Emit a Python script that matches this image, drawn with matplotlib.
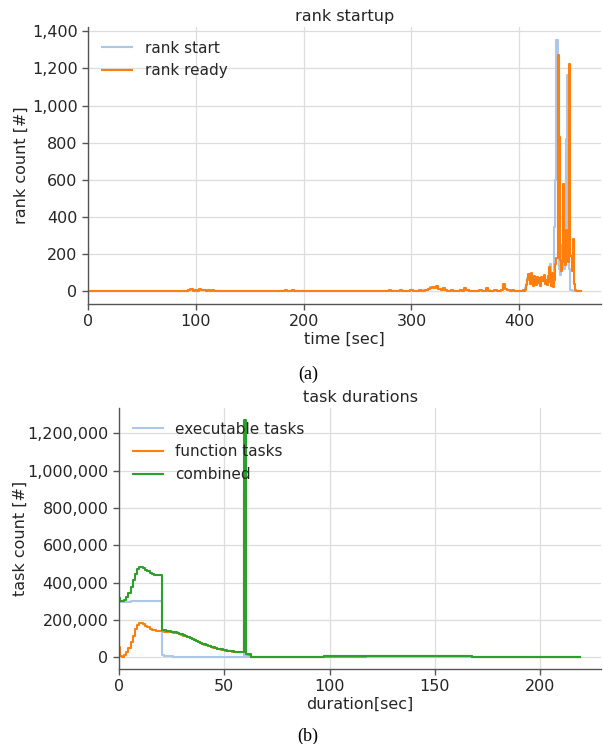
import numpy as np
import matplotlib
matplotlib.use('Agg')
import matplotlib.pyplot as plt
from matplotlib.ticker import FuncFormatter

# ---- rank startup: counts per time bin (2 s bins from 90 s, 1 s bins from 400 s)
rank_low_t0, rank_low_dt = 90, 2
rank_high_t0, rank_high_dt = 400, 1

rank_start_low = [
    1, 3, 8, 10, 6, 9, 4, 10, 6, 7,
    3, 8, 4, 4, 3, 3, 2, 4, 2, 3,
    2, 2, 3, 1, 3, 2, 2, 2, 3, 2,
    1, 2, 2, 3, 3, 2, 1, 3, 2, 2,
    2, 3, 2, 3, 3, 2, 3, 4, 4, 3,
    5, 4, 2, 3, 2, 2, 3, 1, 2, 3,
    2, 2, 2, 2, 1, 2, 2, 3, 3, 2,
    2, 2, 2, 3, 3, 2, 2, 2, 2, 2,
    2, 2, 3, 3, 2, 2, 2, 2, 2, 2,
    2, 2, 3, 3, 4, 4, 3, 3, 3, 3,
    4, 3, 3, 3, 4, 5, 3, 3, 4, 4,
    4, 5, 8, 15, 22, 22, 20, 24, 12, 10,
    16, 8, 4, 4, 4, 3, 3, 4, 5, 3,
    15, 7, 3, 3, 3, 3, 3, 4, 4, 3,
    13, 6, 3, 3, 4, 4, 4, 10, 35, 15,
    6, 3, 5, 3, 3]
rank_ready_low = [
    0, 2, 6, 12, 4, 10, 3, 11, 5, 8,
    2, 9, 3, 5, 2, 4, 1, 3, 2, 4,
    1, 3, 2, 1, 4, 2, 3, 1, 2, 3,
    2, 1, 3, 2, 4, 1, 2, 3, 1, 2,
    3, 2, 1, 4, 2, 3, 2, 5, 3, 4,
    6, 3, 2, 4, 1, 3, 2, 1, 3, 2,
    1, 2, 3, 1, 2, 1, 3, 2, 4, 1,
    2, 3, 1, 2, 4, 2, 1, 3, 2, 1,
    3, 1, 2, 4, 2, 1, 3, 2, 1, 2,
    1, 3, 2, 4, 3, 5, 2, 3, 4, 2,
    5, 3, 2, 4, 3, 6, 2, 4, 3, 5,
    3, 4, 6, 12, 20, 24, 18, 27, 15, 8,
    20, 6, 4, 3, 5, 2, 4, 3, 6, 2,
    18, 5, 3, 2, 4, 3, 2, 5, 3, 4,
    16, 4, 3, 2, 5, 3, 4, 8, 40, 12,
    5, 3, 6, 2, 4]
rank_start_high = [
    2, 0, 1, 3, 4, 8, 20, 40, 70, 80,
    60, 90, 40, 35, 80, 60, 40, 75, 50, 65,
    35, 70, 60, 85, 45, 55, 40, 80, 110, 145,
    50, 90, 60, 345, 600, 1355, 300, 120, 90, 200,
    250, 150, 120, 300, 820, 1165, 300, 120, 10, 0,
    0, 0, 0, 0, 0, 0, 0, 0]
rank_ready_high = [
    3, 1, 0, 2, 5, 3, 10, 35, 60, 95,
    40, 100, 45, 30, 85, 70, 35, 80, 45, 70,
    30, 75, 55, 90, 40, 60, 35, 85, 130, 50,
    30, 100, 25, 60, 150, 180, 1270, 830, 170, 110,
    160, 580, 310, 140, 330, 300, 160, 1225, 190, 110,
    280, 40, 8, 2, 0, 0, 0, 0]

# ---- task durations (counts in thousands), 1 s bins 0..63, then 5 s bins
dur_head = list(range(0, 64))
dur_tail = [65, 70, 75, 80, 85, 90, 95, 100, 105, 110, 115, 120, 125, 130, 135,
            140, 145, 150, 155, 160, 165, 170, 175, 180, 185, 190, 195, 200,
            205, 210, 215, 219]

exe_head = [300, 298, 297, 297, 298, 298, 299, 299, 300, 300,
            300, 300, 301, 300, 300, 300, 300, 299, 299, 300,
            300, 10, 6, 5, 4, 4, 3, 3, 3, 2,
            2, 2, 2, 1, 1, 1, 1, 1, 1, 1,
            1, 1, 1, 1, 1, 1, 1, 0, 0, 0,
            0, 0, 0, 0, 0, 0, 0, 0, 0, 0,
            390, 3, 2, 0]
fn_head = [55, 5, 3, 10, 25, 50, 80, 115, 150, 172,
           182, 183, 177, 168, 160, 152, 147, 143, 141, 140,
           139, 138, 137, 136, 135, 134, 132, 130, 127, 124,
           120, 116, 112, 107, 102, 97, 92, 87, 82, 77,
           72, 67, 63, 59, 55, 51, 48, 45, 42, 40,
           38, 35, 33, 31, 30, 29, 28, 27, 26, 25,
           883, 15, 14, 0]
comb_head = [318, 302, 301, 306, 322, 346, 378, 414, 448, 472,
             482, 483, 478, 470, 462, 454, 448, 443, 441, 440,
             440, 148, 143, 141, 139, 137, 135, 133, 129, 126,
             122, 118, 114, 108, 103, 98, 93, 88, 83, 78,
             73, 68, 64, 60, 56, 52, 49, 46, 43, 41,
             38, 36, 34, 32, 31, 30, 29, 28, 27, 26,
             1273, 18, 16, 0]
exe_tail = [0, 0, 0, 0, 0, 0, 0, 3.5, 3.5, 3.5, 3.5, 1, 1, 1, 1,
            1, 1, 1, 1, 1, 1, 0.5, 0.5, 0.5, 0.5, 0.5, 0.5, 0.2,
            0.2, 0.2, 0.2, 0.2]
fn_tail = [0, 0, 0, 0, 0, 0, 0, 0.5, 0.5, 0.5, 0.5, 4.5, 4.5, 4.5, 4.5,
           4.5, 4.5, 4.5, 4.5, 4.5, 4.5, 2.5, 2.5, 2.5, 2.5, 2.5, 2.5, 0.3,
           0.3, 0.3, 0.3, 0.3]
comb_tail = [0, 0, 0, 0, 0, 0, 0, 4, 4, 4, 4, 5.5, 5.5, 5.5, 5.5,
             5.5, 5.5, 5.5, 5.5, 5.5, 5.5, 3, 3, 3, 3, 3, 3, 0.5,
             0.5, 0.5, 0.5, 0.5]

C_BLUE, C_ORANGE, C_GREEN = '#aec7e8', '#ff7f0e', '#2ca02c'
TXT = '#262626'
FS = 11.5

plt.rcParams.update({
    'font.family': 'DejaVu Sans',
    'text.color': TXT,
    'axes.labelcolor': TXT,
    'xtick.color': '#555555',
    'ytick.color': '#555555',
    'xtick.labelcolor': TXT,
    'ytick.labelcolor': TXT,
})


def style_axes(ax):
    ax.grid(color='#dddddd', linewidth=0.9)
    ax.set_axisbelow(True)
    for s in ('top', 'right'):
        ax.spines[s].set_visible(False)
    for s in ('left', 'bottom'):
        ax.spines[s].set_color('#555555')
        ax.spines[s].set_linewidth(1.0)
    ax.tick_params(labelsize=FS, length=4, width=1)
    ax.yaxis.set_major_formatter(FuncFormatter(lambda v, p: '{:,.0f}'.format(v)))
    leg = ax.legend(loc='upper left', frameon=False, fontsize=FS - 0.5)
    return leg


fig = plt.figure(figsize=(6.03, 7.44), dpi=100)

# ---- (a) rank startup
ax1 = fig.add_axes([0.146, 0.5914, 0.851, 0.3723])
t = np.concatenate([[0],
                    rank_low_t0 + rank_low_dt * np.arange(len(rank_start_low)),
                    rank_high_t0 + rank_high_dt * np.arange(len(rank_start_high))])
y_start = np.concatenate([[0], rank_start_low, rank_start_high])
y_ready = np.concatenate([[0], rank_ready_low, rank_ready_high])
ax1.plot(t, y_start, drawstyle='steps-mid', color=C_BLUE, lw=1.5, label='rank start')
ax1.plot(t, y_ready, drawstyle='steps-mid', color=C_ORANGE, lw=1.5, label='rank ready')
ax1.set_xlim(0, 476)
ax1.set_title('rank startup', fontsize=FS, pad=4)
ax1.set_xlabel('time [sec]', fontsize=FS, labelpad=2)
ax1.set_ylabel('rank count [#]', fontsize=FS, labelpad=2)
style_axes(ax1)

# ---- (b) task durations
ax2 = fig.add_axes([0.1973, 0.1008, 0.7997, 0.3508])
d = np.array(dur_head + dur_tail)
ax2.plot(d, np.array(exe_head + exe_tail) * 1000, drawstyle='steps-mid',
         color=C_BLUE, lw=1.5, label='executable tasks')
ax2.plot(d, np.array(fn_head + fn_tail) * 1000, drawstyle='steps-mid',
         color=C_ORANGE, lw=1.5, label='function tasks')
ax2.plot(d, np.array(comb_head + comb_tail) * 1000, drawstyle='steps-mid',
         color=C_GREEN, lw=1.5, label='combined')
ax2.set_xlim(0, 229)
ax2.set_title('task durations', fontsize=FS, pad=4)
ax2.set_xlabel('duration[sec]', fontsize=FS, labelpad=2)
ax2.set_ylabel('task count [#]', fontsize=FS, labelpad=0)
style_axes(ax2)

fig.text(0.5107, 0.497, '(a)', ha='center', va='center',
         family='Liberation Serif', fontsize=13, color='black')
fig.text(0.5107, 0.0108, '(b)', ha='center', va='center',
         family='Liberation Serif', fontsize=13, color='black')

fig.savefig('out.png', dpi=100)
